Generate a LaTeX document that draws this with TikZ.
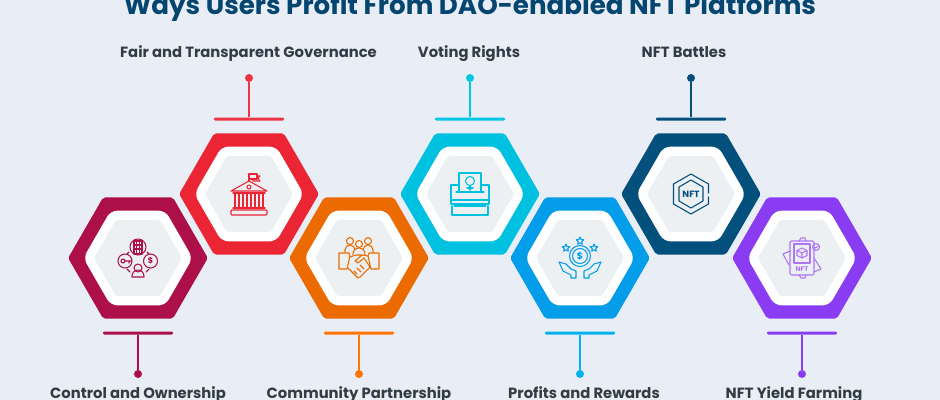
\documentclass[tikz,border=0pt]{standalone}
\usepackage{fontspec}
\setmainfont{Poppins}
\usetikzlibrary{positioning, shapes.geometric}
\definecolor{pagebg}{HTML}{E9EEF6}
\definecolor{greyfill}{HTML}{ECF0F2}
\definecolor{titleblue}{HTML}{04466F}
\definecolor{labelgrey}{HTML}{323C46}
\definecolor{crimson}{HTML}{AD1049}
\definecolor{redc}{HTML}{EC2535}
\definecolor{orangec}{HTML}{EC6B00}
\definecolor{cyanc}{HTML}{00C1E0}
\definecolor{bluec}{HTML}{049DE9}
\definecolor{navyc}{HTML}{04507D}
\definecolor{purplec}{HTML}{8A3CF3}

\begin{document}
\begin{tikzpicture}[x=0.75pt, y=-0.75pt]
\tikzstyle{hexa}=[regular polygon, regular polygon sides=6, inner sep=0pt, outer sep=0pt]
\tikzstyle{outerhex}=[hexa, minimum size=104.8pt, rounded corners=1.5pt]
\tikzstyle{whitehex}=[hexa, minimum size=82pt, rounded corners=5pt, fill=white]
\tikzstyle{greyhex}=[hexa, minimum size=66pt, rounded corners=1.5pt, fill=greyfill]
\tikzstyle{bar}=[rectangle, minimum width=52.5pt, minimum height=2.25pt, inner sep=0pt, rounded corners=0.8pt]
\tikzstyle{dot}=[circle, minimum size=6pt, inner sep=0pt]
\tikzstyle{stem}=[draw, line width=1.7pt]
\tikzstyle{lab}=[font=\bfseries\fontsize{11.1pt}{13pt}\selectfont, text=labelgrey, anchor=base]
\tikzstyle{icon}=[line width=0.8pt, line join=round, line cap=round]
\tikzstyle{staricon}=[star, star points=5, star point ratio=2.2, minimum size=6pt, inner sep=0pt, draw, line width=0.8pt]

\useasboundingbox (0,0) rectangle (940,400);
\fill[pagebg] (0,0) rectangle (940,400);

\node[font=\bfseries\fontsize{19.6pt}{22pt}\selectfont, text=titleblue, anchor=base] (title) at (470,14.5) {Ways Users Profit From DAO-enabled NFT Platforms};

% lower row
\node[outerhex, fill=crimson] (ctrl) at (138,258) {};
\node[outerhex, fill=orangec] (comm) at (359,258) {};
\node[outerhex, fill=bluec] (prof) at (580,258) {};
\node[outerhex, fill=purplec] (yield) at (802,258) {};
% upper row
\node[outerhex, fill=redc] (fair) at (249,194) {};
\node[outerhex, fill=cyanc] (vote) at (470,194) {};
\node[outerhex, fill=navyc] (batt) at (691,194) {};

\foreach \n in {ctrl,comm,prof,yield,fair,vote,batt}{
  \node[whitehex] (\n white) at (\n) {};
  \node[greyhex] (\n grey) at (\n) {};
}

% stems
\node[bar, fill=crimson] (ctrlbar) at (138,333) {};
\node[dot, fill=crimson] (ctrldot) at (138,374) {};
\node[bar, fill=orange!90!red] (commbar) at (359,333) {};
\node[dot, fill=orange!90!red] (commdot) at (359,374) {};
\node[bar, fill=bluec!80!cyan] (profbar) at (580,333) {};
\node[dot, fill=bluec!80!cyan] (profdot) at (580,374) {};
\node[bar, fill=purplec] (yieldbar) at (802,333) {};
\node[dot, fill=purplec] (yielddot) at (802,374) {};
\node[bar, fill=redc!90!pink] (fairbar) at (249,119) {};
\node[dot, fill=redc!90!pink] (fairdot) at (249,78) {};
\node[bar, fill=cyanc!90!cyan] (votebar) at (470,119) {};
\node[dot, fill=cyanc!90!cyan] (votedot) at (470,78) {};
\node[bar, fill=navyc] (battbar) at (691,119) {};
\node[dot, fill=navyc] (battdot) at (691,78) {};
\path
  (ctrlbar) edge [stem, crimson] (ctrldot)
  (commbar) edge [stem, orange!90!red] (commdot)
  (profbar) edge [stem, bluec!80!cyan] (profdot)
  (yieldbar) edge [stem, purplec] (yielddot)
  (fairbar) edge [stem, redc!90!pink] (fairdot)
  (votebar) edge [stem, cyanc!90!cyan] (votedot)
  (battbar) edge [stem, navyc] (battdot)
;

% labels
\node[lab] (fairlab) at (248.5,57) {Fair and Transparent Governance};
\node[lab] (votelab) at (469,57) {Voting Rights};
\node[lab] (battlab) at (684,57) {NFT Battles};
\node[lab] (ctrllab) at (138,398) {Control and Ownership};
\node[lab] (commlab) at (359,398) {Community Partnership};
\node[lab] (proflab) at (584,398) {Profits and Rewards};
\node[lab] (yieldlab) at (794,398) {NFT Yield Farming};

% control icon
\begin{scope}[shift={(138,258)}, icon, draw=crimson]
\draw (0,-11) circle (8);
\draw (-4,-17) rectangle (4,-4) (-1.3,-17) -- (-1.3,-4) (1.3,-17) -- (1.3,-4) (-4,-13) -- (4,-13) (-4,-9) -- (4,-9);
\draw (-13,3) circle (7) (-15,3) circle (2) (-13,3) -- (-7,3) (-9,3) -- (-9,5);
\draw (12.5,3) circle (7);
\node[crimson, font=\bfseries\fontsize{6pt}{6pt}\selectfont] (ctrlsign) at (12.5,3) {\$};
\draw (0,10) circle (4);
\draw (-6,19) -- (-6,18) arc[start angle=180, end angle=360, radius=6] -- (6,19) -- cycle;
\draw (-11,11) -- (-8,14) (11,11) -- (8,14) (-9,-6) -- (-11,-4) (9,-6) -- (11,-4);
\end{scope}

% bank icon
\begin{scope}[shift={(249,194)}, icon, draw=redc]
\draw (0,-13) -- (0,-20) -- (8,-20) -- (8,-15) -- (0,-15);
\draw (8,-18) -- (11,-18) -- (9,-15.5) -- (11,-13) -- (4,-13) -- (4,-15);
\draw (0,-13) -- (18,-3) -- (-18,-3) -- cycle;
\draw (0,-7) circle (2);
\draw (-16,-1) -- (16,-1);
\foreach \cx in {-14,-10,-6,-2,2,6,10,14}{
  \draw (\cx,0) -- (\cx,14);
}
\draw (-16,14) -- (16,14);
\draw[rounded corners=0.6pt] (-18,16) rectangle (18,21);
\end{scope}

% handshake icon
\begin{scope}[shift={(359,258)}, icon, draw=orangec]
\draw (-9,-17) circle (3.5) (9,-17) circle (3.5) (0,-14) circle (3.5);
\draw (-14,-6) -- (-14,-8) arc[start angle=180, end angle=360, radius=5];
\draw (4,-8) arc[start angle=180, end angle=360, radius=5] -- (14,-6);
\draw (-6,-3) -- (-6,-4) arc[start angle=180, end angle=360, radius=6] -- (6,-3);
\draw (-20,-5) -- (-10,-5) -- (-9,-2) -- (-12,11) -- (-20,11) -- cycle;
\draw (20,-5) -- (10,-5) -- (9,-2) -- (12,11) -- (20,11) -- cycle;
\draw (-9,-1) -- (-3,-3) -- (3,-3) -- (-4,3) -- (-1,5) -- (5,0) -- (11,9) -- (1,19) -- (-1,20) -- (-11,10);
\draw (3,-3) -- (9,-2);
\draw (-5,13) -- (-2,16) (-2,10) -- (2,14) (1,7) -- (5,11);
\end{scope}

% ballot icon
\begin{scope}[shift={(470,194)}, icon, draw=cyanc]
\draw (-11,-3) -- (-11,-21) -- (11,-21) -- (11,-3);
\draw (0,-13) circle (4.5);
\draw (0,-8.5) -- (0,-4) (-3,-6) -- (3,-6);
\draw (-14,-2) -- (14,-2);
\draw (-11,-9) -- (-19,-9) -- (-19,10) -- (19,10) -- (19,-9) -- (11,-9);
\draw (-19,6) -- (19,6);
\draw (-18,12) -- (-18,21) -- (18,21) -- (18,12);
\draw (-16,12) -- (16,12);
\end{scope}

% rewards icon
\begin{scope}[shift={(580,258)}, icon, draw=bluec]
\draw (0,-2) circle (10.5) (0,-2) circle (7.5);
\node[bluec, font=\bfseries\fontsize{7pt}{7pt}\selectfont] (profsign) at (0,-2) {\$};
\node[staricon, bluec] (profstara) at (-14,-10) {};
\node[staricon, bluec] (profstarb) at (0,-17) {};
\node[staricon, bluec] (profstarc) at (14,-10) {};
\draw (-21,4) -- (-14,6) -- (-9,11) -- (-4,13) -- (-4,20) -- (-9,20) -- (-9,17) -- (-17,13) -- cycle;
\draw (21,4) -- (14,6) -- (9,11) -- (4,13) -- (4,20) -- (9,20) -- (9,17) -- (17,13) -- cycle;
\end{scope}

% nft badge icon
\begin{scope}[shift={(691,194)}, icon, draw=navyc]
\draw (17.5,-1) -- (17.5,-10) -- (0,-20) -- (-17.5,-10) -- (-17.5,10) -- (0,20) -- (17.5,10) -- (17.5,3);
\draw (0,-14) -- (12,-7) -- (12,7) -- (0,14) -- (-12,7) -- (-12,-7) -- cycle;
\node[navyc, font=\bfseries\fontsize{6.8pt}{7pt}\selectfont] (battsign) at (0,0) {NFT};
\end{scope}

% nft card icon
\begin{scope}[shift={(802,258)}, icon, draw=purplec!70!white]
\draw[rounded corners=1pt] (-12,-17) rectangle (12,17);
\draw (-8,-14) rectangle (8,5);
\draw (0,-10) -- (5,-7.5) -- (5,-2.5) -- (0,0) -- (-5,-2.5) -- (-5,-7.5) -- cycle (-5,-7.5) -- (0,-5) -- (5,-7.5) (0,-5) -- (0,0);
\node[purplec!70!white, font=\bfseries\fontsize{5pt}{5pt}\selectfont] (yieldsign) at (0,11) {NFT};
\draw (14,-11) circle (3.5) (12.5,-11) -- (13.7,-9.8) -- (15.7,-12);
\draw (-12,-7) -- (-19,-4) -- (-13,7) (12,0) -- (19,11) -- (12,14);
\draw (-3,-17) -- (-1,-20) -- (3,-20) -- (4,-17) (-3,17) -- (-1,20) -- (3,20) -- (4,17);
\end{scope}
\end{tikzpicture}
\end{document}
